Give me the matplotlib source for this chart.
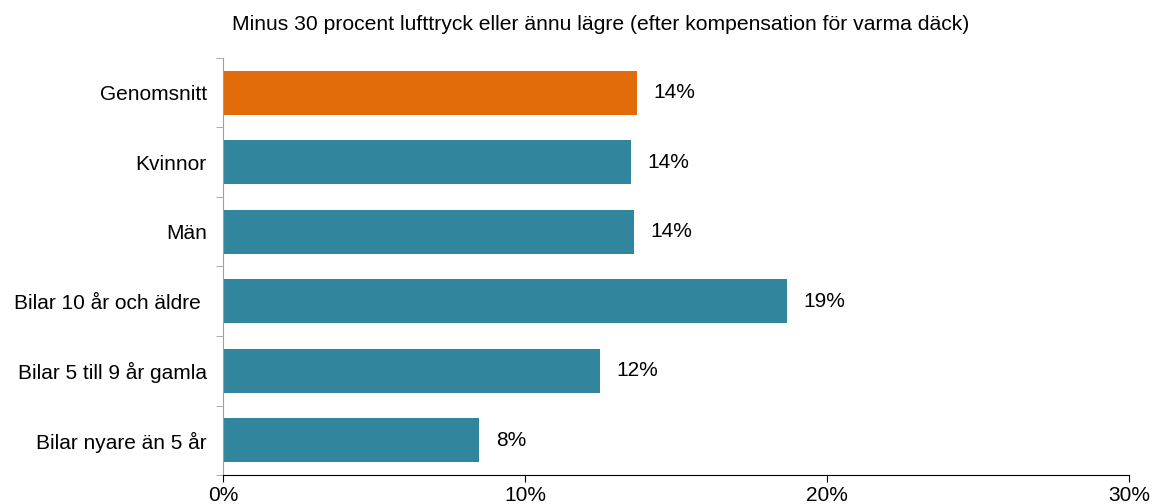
import matplotlib.pyplot as plt
import numpy as np

# Andel med minus 30 procent lufttryck eller lägre
kategorier = ["Genomsnitt", "Kvinnor", "Män", "Bilar 10 år och äldre ",
              "Bilar 5 till 9 år gamla", "Bilar nyare än 5 år"]
andel = [13.7, 13.5, 13.6, 18.65, 12.48, 8.47]
etiketter = ["14%", "14%", "14%", "19%", "12%", "8%"]
farger = ["#E36C0A", "#31859C", "#31859C", "#31859C", "#31859C", "#31859C"]
xticks = [0, 10, 20, 30]

plt.rcParams['font.family'] = ['Liberation Sans', 'DejaVu Sans']

fig = plt.figure(figsize=(11.53, 5.04), dpi=100)
ax = fig.add_axes([0.1937, 0.0575, 0.7858, 0.8275])

y = np.arange(len(kategorier))
ax.barh(y, andel, height=0.63, color=farger)
for yi, v, t in zip(y, andel, etiketter):
    ax.text(v + 0.55, yi, t, va='center', ha='left', fontsize=15)

ax.set_ylim(len(kategorier) - 0.5, -0.5)
ax.set_xlim(0, 30)
ax.set_yticks(y)
ax.set_yticklabels(kategorier, fontsize=15)
ax.set_yticks(np.arange(len(kategorier) + 1) - 0.5, minor=True)
ax.tick_params(axis='y', which='major', length=0, pad=12)
ax.tick_params(axis='y', which='minor', length=5, color='#a0a0a0', direction='out')
ax.set_xticks(xticks)
ax.set_xticklabels([f"{x}%" for x in xticks], fontsize=15)
ax.tick_params(axis='x', length=5, direction='out', pad=3)

for s in ['top', 'right']:
    ax.spines[s].set_visible(False)
ax.spines['left'].set_color('#a0a0a0')
ax.spines['bottom'].set_color('black')

fig.text(0.521, 0.952, "Minus 30 procent lufttryck eller ännu lägre (efter kompensation för varma däck)",
         ha='center', va='center', fontsize=15.2)

plt.savefig("out.png", dpi=100)
